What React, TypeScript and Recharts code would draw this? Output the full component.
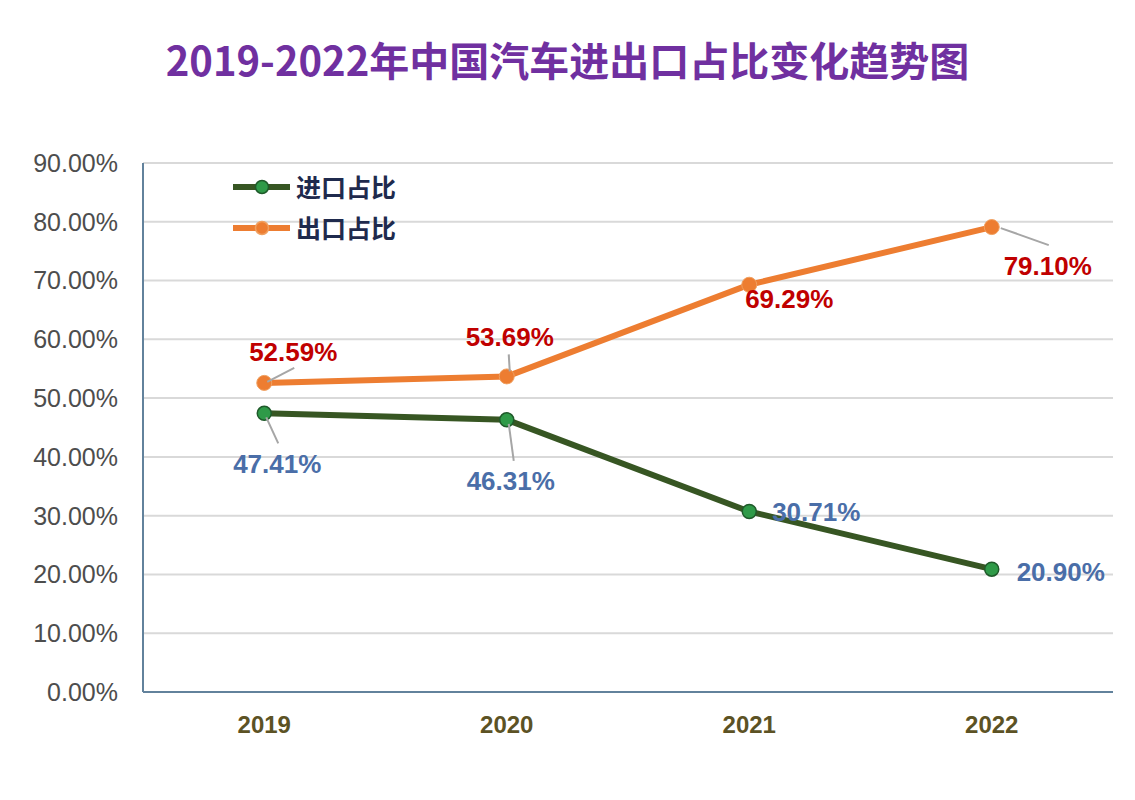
import { LineChart, Line, XAxis, YAxis, CartesianGrid } from "recharts";

const years = ["2019", "2020", "2021", "2022"];
const importShare = [47.41, 46.31, 30.71, 20.9];
const exportShare = [52.59, 53.69, 69.29, 79.1];
const yTicks = [0, 10, 20, 30, 40, 50, 60, 70, 80, 90];

// label placement, relative to each point: [dx, dy] plus an optional leader line
const importLabelPos = [
  { dx: 13, dy: 51, leader: [2, 4, 14, 30] },
  { dx: 4, dy: 61, leader: [2, 4, 7, 41] },
  { dx: 67, dy: 1, leader: null },
  { dx: 69, dy: 3, leader: null },
];
const exportLabelPos = [
  { dx: 29, dy: -31, leader: [3, -1, 30, -15] },
  { dx: 3, dy: -39, leader: [3, -5, 2, -22] },
  { dx: 40, dy: 14, leader: null },
  { dx: 56, dy: 39, leader: [9, 1, 57, 18] },
];

const chartData = years.map((year, i) => ({
  year,
  importShare: importShare[i],
  exportShare: exportShare[i],
}));

const GREEN_LINE = "#375623";
const GREEN_DOT = "#2f9a48";
const ORANGE = "#ed7d31";
const LABEL_RED = "#c00000";
const LABEL_BLUE = "#4a6ea8";
const GRID = "#d9d9d9";
const AXIS = "#62829c";
const FONT = "'Liberation Sans', Arial, sans-serif";
const CJK = "'Noto Sans CJK SC', sans-serif";

function makeLabel(pos: typeof importLabelPos, color: string) {
  return (props: any) => {
    const { x, y, value, index } = props;
    const p = pos[index];
    if (!p) return null;
    return (
      <g key={`lbl-${index}`}>
        {p.leader && (
          <line
            x1={x + p.leader[0]}
            y1={y + p.leader[1]}
            x2={x + p.leader[2]}
            y2={y + p.leader[3]}
            stroke="#a6a6a6"
            strokeWidth={2}
          />
        )}
        <text
          x={x + p.dx}
          y={y + p.dy}
          textAnchor="middle"
          dominantBaseline="central"
          fill={color}
          fontFamily={FONT}
          fontWeight="bold"
          fontSize={26}
        >
          {Number(value).toFixed(2)}%
        </text>
      </g>
    );
  };
}

function GreenDot(props: any) {
  const { cx, cy, index } = props;
  return <circle key={`g-${index}`} cx={cx} cy={cy} r={7} fill={GREEN_DOT} stroke="#1f5a2a" strokeWidth={1.5} />;
}

function OrangeDot(props: any) {
  const { cx, cy, index } = props;
  return <circle key={`o-${index}`} cx={cx} cy={cy} r={7.5} fill={ORANGE} stroke="#f0a060" strokeWidth={1} />;
}

const legendItems = [
  { name: "进口占比", line: GREEN_LINE, dot: GREEN_DOT, dotStroke: "#1f5a2a" },
  { name: "出口占比", line: ORANGE, dot: ORANGE, dotStroke: "#f0a060" },
];

function ChartLegend() {
  return (
    <div style={{ position: "absolute", left: 232, top: 166 }}>
      {legendItems.map((it) => (
        <div key={it.name} style={{ display: "flex", alignItems: "center", height: 41 }}>
          <svg width={60} height={16} style={{ marginRight: 4 }}>
            <line x1={1} y1={8} x2={58} y2={8} stroke={it.line} strokeWidth={6} />
            <circle cx={30} cy={8} r={6.5} fill={it.dot} stroke={it.dotStroke} strokeWidth={1.5} />
          </svg>
          <span style={{ fontFamily: CJK, fontWeight: 700, fontSize: 25, color: "#1f2a4d", lineHeight: "41px" }}>
            {it.name}
          </span>
        </div>
      ))}
    </div>
  );
}

export default function App() {
  return (
    <div style={{ position: "absolute", left: 0, top: 0, width: 1135, height: 800, background: "#fff" }}>
      <div
        style={{
          position: "absolute",
          left: 0,
          top: 33,
          width: 1135,
          textAlign: "center",
          fontFamily: CJK,
          fontWeight: 700,
          fontSize: 40,
          color: "#7030a0",
          lineHeight: "52px",
        }}
      >
        2019-2022年中国汽车进出口占比变化趋势图
      </div>
      <LineChart
        width={1135}
        height={800}
        data={chartData}
        margin={{ top: 163, right: 22, bottom: 48, left: 10 }}
      >
        <CartesianGrid vertical={false} stroke={GRID} strokeWidth={2} />
        <XAxis
          dataKey="year"
          scale="band"
          height={60}
          axisLine={{ stroke: AXIS, strokeWidth: 2 }}
          tickLine={false}
          tickSize={0}
          tickMargin={24}
          tick={{ fill: "#5c5224", fontFamily: FONT, fontWeight: "bold", fontSize: 24 }}
        />
        <YAxis
          width={133}
          domain={[0, 90]}
          ticks={yTicks}
          interval={0}
          axisLine={{ stroke: AXIS, strokeWidth: 2 }}
          tickLine={false}
          tickSize={0}
          tickMargin={25}
          tickFormatter={(v) => `${Number(v).toFixed(2)}%`}
          tick={{ fill: "#4d4d4d", fontFamily: FONT, fontSize: 25 }}
        />
        <Line
          dataKey="importShare"
          name="进口占比"
          stroke={GREEN_LINE}
          strokeWidth={6}
          dot={<GreenDot />}
          activeDot={false}
          label={makeLabel(importLabelPos, LABEL_BLUE)}
          isAnimationActive={false}
        />
        <Line
          dataKey="exportShare"
          name="出口占比"
          stroke={ORANGE}
          strokeWidth={6}
          dot={<OrangeDot />}
          activeDot={false}
          label={makeLabel(exportLabelPos, LABEL_RED)}
          isAnimationActive={false}
        />
      </LineChart>
      <ChartLegend />
    </div>
  );
}
